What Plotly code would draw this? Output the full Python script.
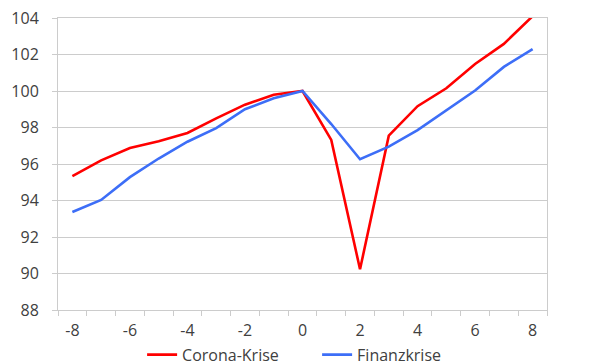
import plotly.graph_objects as go

x_vals = list(range(-8, 9))
corona = [95.34, 96.2, 96.88, 97.25, 97.7, 98.5, 99.25, 99.8, 100.0, 97.32, 90.23, 97.55, 99.17, 100.15, 101.48, 102.58, 104.1]
finanz = [93.37, 94.03, 95.28, 96.3, 97.22, 97.97, 99.0, 99.6, 100.0, 98.19, 96.26, 96.95, 97.86, 98.97, 100.03, 101.32, 102.3]
x_tick_vals = [-8, -6, -4, -2, 0, 2, 4, 6, 8]
x_tick_text = ["-8", "-6", "-4", "-2", "0", "2", "4", "6", "8"]
y_tick_vals = [88, 90, 92, 94, 96, 98, 100, 102, 104]

fig = go.Figure()
fig.add_trace(go.Scatter(x=x_vals, y=corona, mode="lines", name="Corona-Krise",
                         line=dict(color="#ff0000", width=2.6)))
fig.add_trace(go.Scatter(x=x_vals, y=finanz, mode="lines", name="Finanzkrise",
                         line=dict(color="#3d6ef7", width=2.6)))

grid = "#cccccc"
fig.update_layout(
    width=601, height=361,
    margin=dict(l=50, r=62, t=10, b=59, autoexpand=False),
    paper_bgcolor="white", plot_bgcolor="white",
    font=dict(family="Open Sans, Noto Sans, sans-serif", size=16, color="#404040"),
    showlegend=True,
    legend=dict(orientation="h", x=0.172, xanchor="left", y=-0.153, yanchor="middle",
                entrywidth=130, entrywidthmode="pixels", font=dict(size=16, color="#404040"),
                bgcolor="rgba(0,0,0,0)"),
    xaxis=dict(range=[-8.5, 8.5], tickmode="array", tickvals=x_tick_vals, ticktext=x_tick_text,
               ticks="", showgrid=False, zeroline=False, showline=True, linecolor=grid, linewidth=1,
               mirror=True, ticklabelstandoff=6,
               minor=dict(ticks="outside", ticklen=5, tickcolor=grid, tick0=-8.5, dtick=1, showgrid=False)),
    yaxis=dict(range=[88, 104], tickmode="array", tickvals=y_tick_vals, ticks="outside", ticklen=5,
               tickcolor=grid, showgrid=True, gridcolor=grid, gridwidth=1, zeroline=False,
               showline=True, linecolor=grid, linewidth=1, mirror=True, ticklabelstandoff=10,
               ticklabeloverflow="allow"),
)

fig.write_html("out.html")
